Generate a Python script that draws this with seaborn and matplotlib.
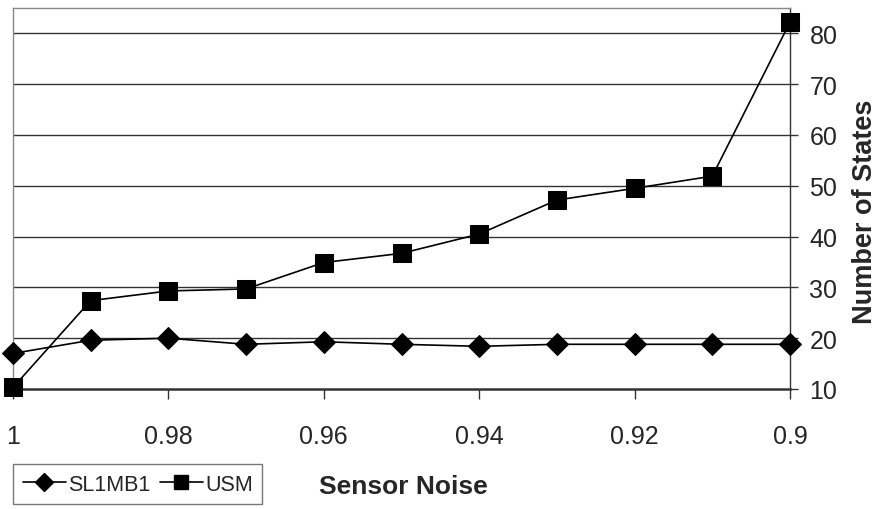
import matplotlib
matplotlib.use("Agg")
import matplotlib.pyplot as plt
import seaborn as sns
import pandas as pd
from matplotlib.lines import Line2D

noise = [1.00, 0.99, 0.98, 0.97, 0.96, 0.95, 0.94, 0.93, 0.92, 0.91, 0.90]
sl1mb1 = [17.0, 19.6, 20.0, 18.8, 19.3, 18.8, 18.4, 18.8, 18.8, 18.8, 18.8]
usm = [10.3, 27.4, 29.3, 29.7, 34.9, 36.7, 40.5, 47.2, 49.5, 51.9, 82.2]
xtick_vals = [1.00, 0.98, 0.96, 0.94, 0.92, 0.90]
xtick_labels = ["1", "0.98", "0.96", "0.94", "0.92", "0.9"]
ytick_vals = [10, 20, 30, 40, 50, 60, 70, 80]

sns.set_style("white")
plt.rcParams['font.family'] = ['Liberation Sans', 'DejaVu Sans']

df = pd.DataFrame({"noise": noise, "SL1MB1": sl1mb1, "USM": usm})

fig = plt.figure(figsize=(8.8, 5.1), dpi=100)
ax = fig.add_axes([13/880, 1 - 390/510, (790 - 13)/880, (390 - 9)/510])

for y in ytick_vals[1:]:
    ax.axhline(y, color="#333333", lw=1.0, zorder=1)

sns.lineplot(data=df, x="noise", y="SL1MB1", ax=ax, color="black", lw=1.2,
             marker="D", markersize=11.5, markeredgecolor="black", zorder=3, clip_on=False)
sns.lineplot(data=df, x="noise", y="USM", ax=ax, color="black", lw=1.2,
             marker="s", markersize=13, markeredgecolor="black", zorder=4, clip_on=False)

ax.set_xlim(1.0, 0.9)
ax.set_ylim(10, 85)

ax.yaxis.tick_right()
ax.yaxis.set_label_position("right")
ax.set_yticks(ytick_vals)
ax.set_yticklabels([str(v) for v in ytick_vals], fontsize=18)
ax.tick_params(axis="y", direction="out", length=6, width=1, color="#333333", pad=8, right=True, left=False)

ax.set_xticks(xtick_vals)
ax.set_xticklabels(xtick_labels, fontsize=18)
ax.tick_params(axis="x", direction="out", length=7, width=1, color="#333333", pad=18, bottom=True)

for s in ["left", "top"]:
    ax.spines[s].set_color("#888888")
    ax.spines[s].set_linewidth(1.0)
ax.spines["right"].set_color("#333333")
ax.spines["right"].set_linewidth(1.0)
ax.spines["bottom"].set_color("#333333")
ax.spines["bottom"].set_linewidth(1.8)

ax.set_ylabel("Number of States", fontsize=19.5, fontweight="bold")
ax.yaxis.set_label_coords((852 - 13) / (790 - 13), 1 - (212 - 9) / (390 - 9))
ax.set_xlabel("")
fig.text(319/880, 1 - 487/510, "Sensor Noise", fontsize=19, fontweight="bold",
         ha="left", va="center")

handles = [
    Line2D([], [], color="black", lw=1.2, marker="D", markersize=9),
    Line2D([], [], color="black", lw=1.2, marker="s", markersize=10),
]
leg = fig.legend(handles, ["SL1MB1", "USM"], loc="upper left",
                 bbox_to_anchor=(13/880, 1 - 465/510), ncol=2, frameon=True, fancybox=False,
                 fontsize=15.5, handlelength=2.0, handletextpad=0.1, columnspacing=0.45,
                 borderpad=0.45, edgecolor="#555555", borderaxespad=0)
leg.get_frame().set_linewidth(1.0)

fig.savefig("out.png", dpi=100)
